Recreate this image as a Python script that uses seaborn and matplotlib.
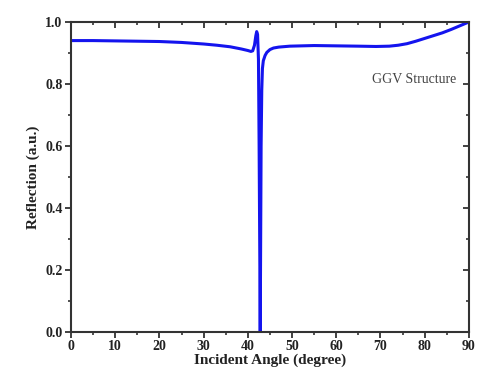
import matplotlib
matplotlib.use("Agg")
import matplotlib.pyplot as plt
import seaborn as sns
import pandas as pd
from matplotlib.ticker import MultipleLocator

angle = [0, 5, 10, 15, 20, 25, 30, 33, 36, 38.5, 40, 40.7, 41.1, 41.5, 41.8, 42.0,
         42.2, 42.4, 42.55, 42.7, 42.8, 42.9, 43.0, 43.15, 43.3, 43.5, 43.9, 44.3,
         45.0, 45.8, 47, 49.5, 55, 60, 65, 69, 72, 74, 76, 78, 80, 82, 84, 86, 88, 90]
reflection = [0.940, 0.940, 0.939, 0.938, 0.937, 0.934, 0.929, 0.925, 0.920, 0.913,
              0.908, 0.905, 0.907, 0.925, 0.955, 0.969, 0.960, 0.880, 0.600, 0.250,
              0.000, 0.300, 0.600, 0.780, 0.850, 0.875, 0.892, 0.902, 0.911, 0.916,
              0.919, 0.922, 0.924, 0.923, 0.922, 0.921, 0.922, 0.925, 0.930, 0.938,
              0.947, 0.956, 0.965, 0.976, 0.988, 1.000]

x_ticks = [0, 10, 20, 30, 40, 50, 60, 70, 80, 90]
y_ticks = [0.0, 0.2, 0.4, 0.6, 0.8, 1.0]
annotation = "GGV Structure"

df = pd.DataFrame({"angle": angle, "reflection": reflection})

sns.set_style("ticks")
plt.rcParams["font.family"] = ["Liberation Serif", "DejaVu Serif"]

fig = plt.figure(figsize=(4.78, 3.83), dpi=100)
ax = fig.add_axes([0.1485, 0.1332, 0.8325, 0.8094])

sns.lineplot(data=df, x="angle", y="reflection", ax=ax, color="#1414ee",
             linewidth=2.2, estimator=None, sort=False)

ax.set_xlim(0, 90)
ax.set_ylim(0, 1.0)
ax.set_xticks(x_ticks)
ax.set_yticks(y_ticks)
ax.set_xticklabels([str(t) for t in x_ticks], fontweight="bold", fontsize=10)
ax.set_yticklabels([f"{t:.1f}" for t in y_ticks], fontweight="bold", fontsize=10)
ax.xaxis.set_minor_locator(MultipleLocator(5))
ax.yaxis.set_minor_locator(MultipleLocator(0.1))

for s in ax.spines.values():
    s.set_visible(True)
    s.set_linewidth(1.5)
    s.set_color("#333333")

ax.tick_params(axis="both", which="major", direction="out", length=4, width=1.3,
               colors="#333333", pad=2)
ax.tick_params(axis="both", which="minor", direction="out", length=2.5, width=1.2,
               colors="#333333")
ax.tick_params(axis="both", which="both", top=True, right=True)
ax.tick_params(axis="x", which="both", labelcolor="#222222")
ax.tick_params(axis="y", which="both", labelcolor="#222222")
# top/right ticks point inward
for t in ax.xaxis.get_ticklines(minor=False)[1::2] + ax.xaxis.get_ticklines(minor=True)[1::2]:
    t.set_marker(3)
for t in ax.yaxis.get_ticklines(minor=False)[1::2] + ax.yaxis.get_ticklines(minor=True)[1::2]:
    t.set_marker(0)

ax.set_xlabel("Incident Angle (degree)", fontweight="bold", fontsize=11,
              color="#222222", labelpad=0)
ax.set_ylabel("Reflection (a.u.)", fontweight="bold", fontsize=11,
              color="#222222", labelpad=4)

ax.text(77.5, 0.815, annotation, fontsize=10, color="#444444",
        ha="center", va="center")

fig.savefig("out.png", dpi=100)
